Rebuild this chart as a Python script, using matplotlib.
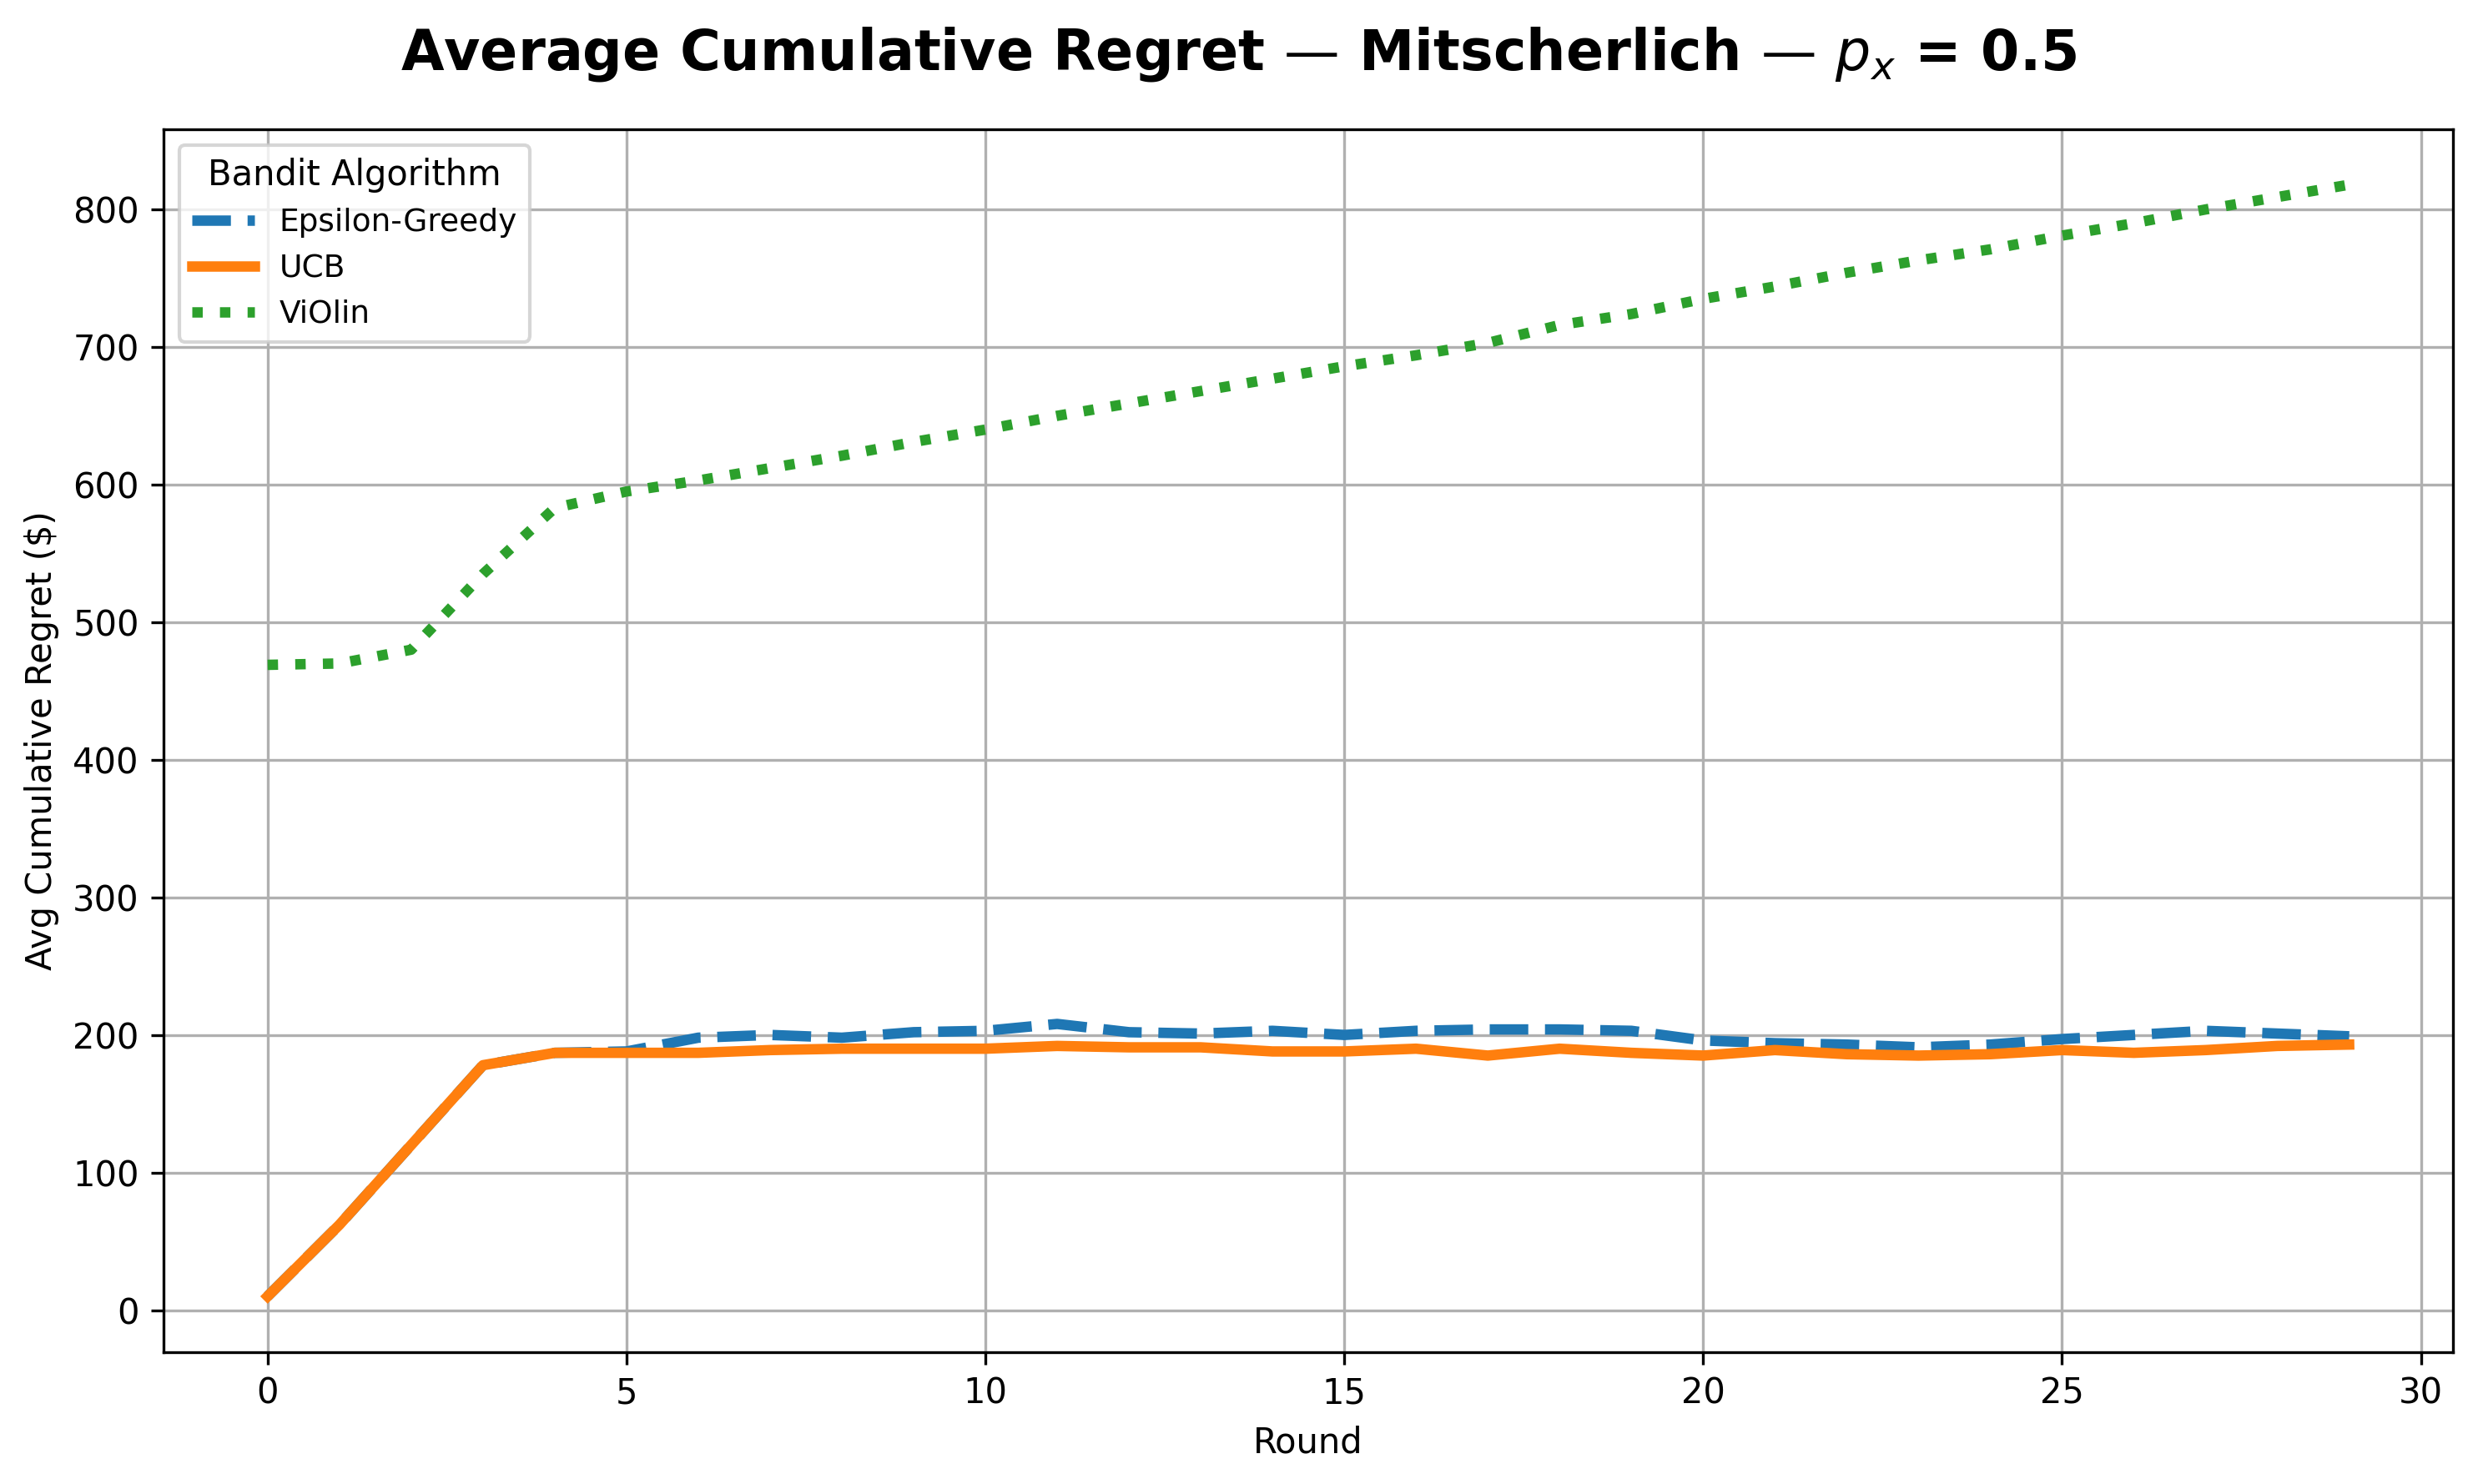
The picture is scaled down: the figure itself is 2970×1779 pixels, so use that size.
import matplotlib
matplotlib.use('Agg')
import matplotlib.pyplot as plt

rounds = list(range(30))

# average cumulative regret per round
eps_greedy = [10, 62, 120, 178, 187, 188, 198, 200, 198, 202,
              203, 208, 202, 201, 203, 200, 203, 204, 204, 203,
              196, 194, 193, 191, 193, 197, 200, 203, 201, 199]
ucb = [10, 62, 120, 178, 187, 187, 187, 189, 190, 190,
       190, 192, 191, 191, 188, 188, 190, 185, 190, 187,
       185, 189, 186, 185, 186, 189, 187, 189, 192, 193]
violin = [469, 470, 480, 535, 583, 595, 603, 612, 621, 631,
          640, 650, 659, 668, 677, 686, 694, 703, 716, 724,
          735, 744, 754, 763, 771, 781, 790, 800, 809, 818]

series = [('Epsilon-Greedy', eps_greedy, '--', '#1f77b4'),
          ('UCB', ucb, '-', '#ff7f0e'),
          ('ViOlin', violin, ':', '#2ca02c')]

fig, ax = plt.subplots(figsize=(9.9, 5.93), dpi=300)
for name, vals, ls, col in series:
    ax.plot(rounds, vals, linestyle=ls, color=col, linewidth=3, label=name)

ax.set_xlabel('Round')
ax.set_ylabel('Avg Cumulative Regret (\\$)')
ax.grid(True)
ax.legend(title='Bandit Algorithm', loc='upper left', fontsize=9, title_fontsize=10)
fig.suptitle('Average Cumulative Regret \u2014 Mitscherlich \u2014 $p_x$ = 0.5',
             fontsize=16, fontweight='bold', y=0.983)
fig.subplots_adjust(left=0.066, right=0.990, top=0.913, bottom=0.089)
fig.savefig('out.png', dpi=300)
